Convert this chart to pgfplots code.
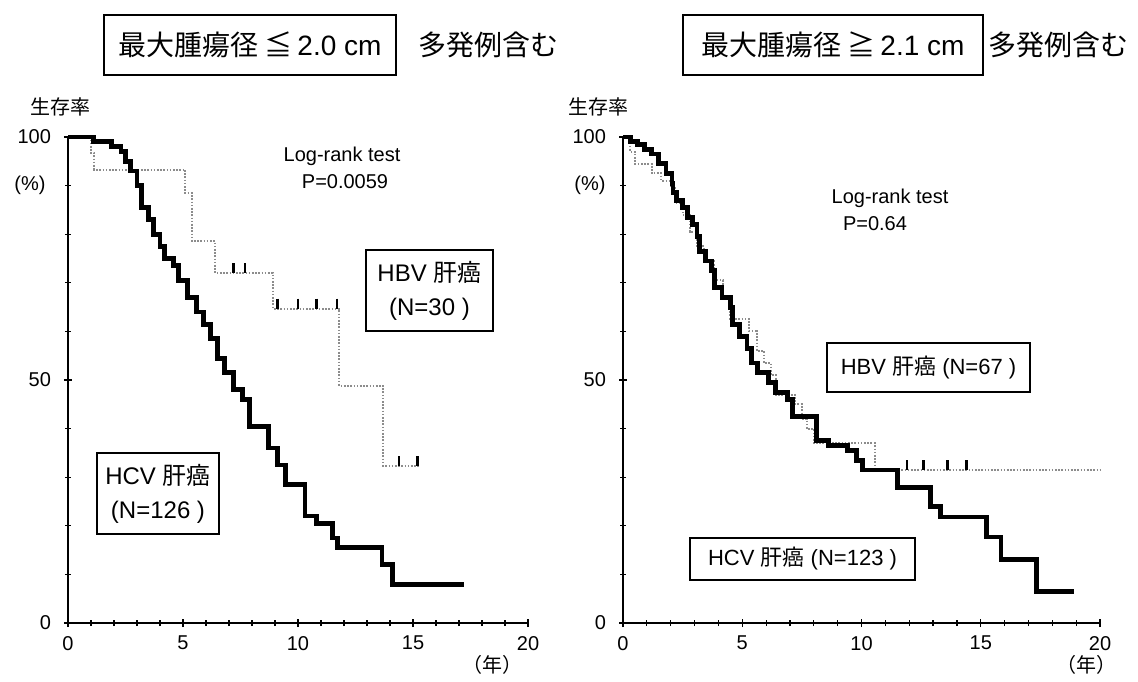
\documentclass[border=0pt]{standalone}
\usepackage{fontspec}
\setmainfont{Liberation Sans}
\newfontfamily\jp{Noto Sans CJK JP}
\usepackage{pgfplots}
\pgfplotsset{compat=1.18}

\pgfplotsset{
  km/.style={
    scale only axis, height=243pt,
    xmin=0, xmax=20, ymin=0, ymax=100,
    axis x line*=bottom, axis y line*=left,
    axis line style={line width=0.75pt,-},
    xtick={0,5,10,15,20}, ytick={0,50,100},
    minor x tick num=4, minor y tick num=4,
    tick align=center, major tick length=4pt, minor tick length=3pt,
    tick style={black, line width=0.6pt},
    tick label style={font=\fontsize{10}{12}\selectfont},
    /pgf/number format/assume math mode=true,
    yticklabel style={xshift=-3pt}, xticklabel style={yshift=-1pt},
    clip=false, anchor=south west,
  },
  hcv/.style={black, line width=2.4pt, const plot, line cap=butt, line join=miter},
  hbv/.style={black!45, line width=1pt, const plot, dash pattern=on 0.8pt off 0.8pt},
  cens/.style={only marks, mark=|, mark size=2.5pt, mark options={black, line width=1.2pt}},
}
\tikzset{lbl/.style={font=\fontsize{10}{12}\selectfont, inner sep=0pt},
         jl/.style={font=\jp\fontsize{10}{12}\selectfont, inner sep=0pt},
         bx/.style={draw, line width=0.6pt, align=center, inner sep=0pt}}

\begin{document}
\begin{tikzpicture}
\path (0pt,0pt) rectangle (569pt,340.5pt);

% ---------- left panel: <= 2.0 cm ----------
\begin{axis}[km, width=230pt, at={(34pt,29pt)}]
  % HBV
  \addplot[hbv] coordinates {(0,100)(1.0,96.7)(1.15,93.3)(5.1,88.4)(5.4,78.5)
    (6.4,72)(8.9,64.7)(11.8,48.8)(13.7,32.3)(15.3,32.3)};
  \addplot[cens] coordinates {(7.2,73)(7.7,73)(9.1,65.7)(10.0,65.7)(10.8,65.7)
    (11.7,65.7)(14.4,33.3)(15.2,33.3)};
  % HCV
  \addplot[hcv] coordinates {(0,100)(1.1,99)(1.9,98)(2.3,97)(2.5,95)(2.7,93)
    (3.0,90)(3.2,85.5)(3.5,83)(3.7,80)(4.0,77.5)(4.2,75)(4.6,73.5)(4.8,70.5)
    (5.2,67)(5.6,64)(5.9,61.5)(6.2,58.5)(6.5,54.5)(6.8,51.5)(7.2,48)(7.6,46)
    (7.9,40.5)(8.7,36)(9.1,32.5)(9.45,28.5)(10.3,22)(10.8,20.5)(11.5,17.5)
    (11.7,15.5)(13.65,12)(14.1,8)(17.2,8)};
\end{axis}

% ---------- right panel: >= 2.1 cm ----------
\begin{axis}[km, width=238.5pt, at={(311.5pt,29pt)}]
  % HBV
  \addplot[hbv] coordinates {(0,100)(0.3,97)(0.5,94.5)(1.2,92.5)(1.6,91)
    (2.0,89.5)(2.2,86.5)(2.5,84)(2.8,80.5)(3.1,77.5)(3.4,74.5)(3.8,70.5)
    (4.2,67)(4.5,62.5)(5.3,60)(5.6,56)(5.9,53.5)(6.2,51)(6.4,47)(7.2,45)
    (7.5,42)(7.7,40)(8.0,37)(10.55,31.5)(20,31.5)};
  \addplot[cens] coordinates {(11.9,32.5)(12.6,32.5)(13.6,32.5)(14.4,32.5)};
  % HCV
  \addplot[hcv] coordinates {(0,100)(0.3,99)(0.6,98.5)(0.9,97.5)(1.2,96.5)
    (1.5,94.5)(1.8,92.5)(2.05,90.5)(2.1,88.5)(2.25,87)(2.5,85.5)(2.7,83.5)
    (2.9,82)(3.1,79.5)(3.2,76.5)(3.45,74.5)(3.7,72.5)(3.85,69)(4.15,67)
    (4.5,65)(4.6,61.5)(4.9,59)(5.2,56.5)(5.4,53.5)(5.65,51.5)(6.1,49.5)
    (6.4,47.5)(6.9,46)(7.1,42.5)(8.1,37.5)(8.6,36.5)(9.4,35.5)(9.8,33.5)
    (10.05,31.5)(11.5,27.8)(12.9,24)(13.3,21.8)(15.25,17.7)(15.85,13)
    (17.35,6.5)(18.9,6.5)};
\end{axis}

% ---------- titles ----------
\node[bx, minimum width=146pt, minimum height=30pt,
      font=\fontsize{14}{17}\selectfont] at (125pt,318pt)
      {{\jp 最大腫瘍径 ≦}\,2.0 cm};
\node[font=\jp\fontsize{14}{17}\selectfont, inner sep=0pt] at (244pt,318pt) {多発例含む};
\node[bx, minimum width=150pt, minimum height=30pt,
      font=\fontsize{14}{17}\selectfont] at (416.5pt,318pt)
      {{\jp 最大腫瘍径 ≧}\,2.1 cm};
\node[font=\jp\fontsize{14}{17}\selectfont, inner sep=0pt] at (529pt,318pt) {多発例含む};

% ---------- axis captions ----------
\node[jl] at (30pt,287pt) {生存率};
\node[jl] at (299pt,287pt) {生存率};
\node[lbl] at (15pt,248pt) {(\%)};
\node[lbl] at (295pt,248pt) {(\%)};
\node[jl] at (246pt,8pt) {（年）};
\node[jl] at (543pt,8pt) {（年）};

% ---------- test results ----------
\node[lbl] at (171pt,262.5pt) {Log-rank test};
\node[lbl] at (172.5pt,249.5pt) {P=0.0059};
\node[lbl] at (445pt,241.5pt) {Log-rank test};
\node[lbl] at (437.5pt,228.5pt) {P=0.64};

% ---------- group labels ----------
\node[bx, minimum width=63.5pt, minimum height=40.5pt,
      font=\fontsize{12}{17}\selectfont] at (214.75pt,195.25pt)
      {HBV\ {\jp 肝癌}\\(N=30\ )};
\node[bx, minimum width=61pt, minimum height=40.5pt,
      font=\fontsize{12}{17}\selectfont] at (79pt,93.75pt)
      {HCV\ {\jp 肝癌}\\(N=126\ )};
\node[bx, minimum width=101.5pt, minimum height=24.5pt,
      font=\fontsize{11}{14}\selectfont] at (464.25pt,156.75pt)
      {HBV\ {\jp 肝癌}\ (N=67\ )};
\node[bx, minimum width=112.5pt, minimum height=21pt,
      font=\fontsize{11}{14}\selectfont] at (401.25pt,61pt)
      {HCV\ {\jp 肝癌}\ (N=123\ )};
\end{tikzpicture}
\end{document}
